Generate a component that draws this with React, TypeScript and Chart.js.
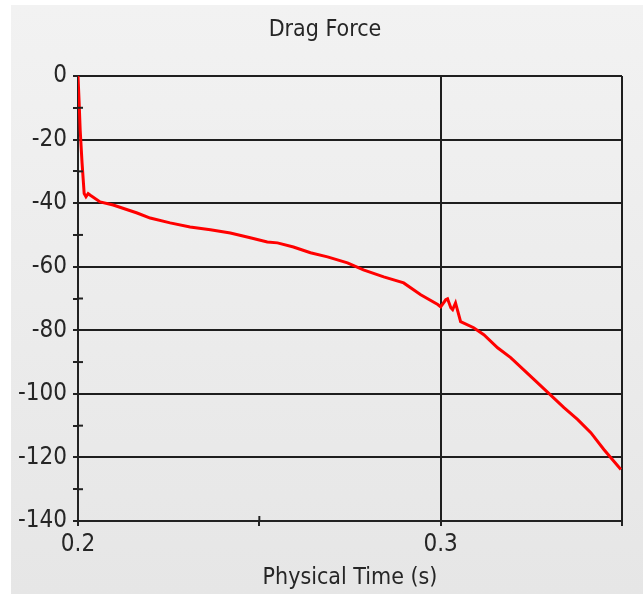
import React, { useEffect, useRef } from 'react';
import { Chart, registerables } from 'chart.js';

Chart.register(...registerables);

const chartTitle = 'Drag Force';
const xAxisTitle = 'Physical Time (s)';

const timeValues = [
  0.2, 0.2003, 0.2006, 0.2011, 0.2017, 0.2022, 0.2028, 0.2034, 0.2061, 0.2097,
  0.2163, 0.2199, 0.2254, 0.2309, 0.2365, 0.242, 0.2475, 0.2522, 0.255, 0.2594,
  0.2641, 0.2688, 0.2743, 0.2787, 0.2843, 0.2898, 0.2945, 0.2992, 0.3, 0.3014,
  0.3019, 0.3028, 0.3033, 0.3041, 0.3055, 0.3091, 0.3119, 0.3157, 0.3193, 0.3249,
  0.3296, 0.334, 0.3378, 0.3414, 0.345, 0.3497,
];
const dragValues = [
  0, -8, -17, -27, -37, -38, -37, -37.5, -39.6, -40.6,
  -43.1, -44.7, -46.2, -47.5, -48.4, -49.4, -50.9, -52.2, -52.5, -53.8,
  -55.6, -56.9, -58.8, -61.0, -63.2, -65.1, -68.8, -71.9, -72.6, -70.4,
  -70.1, -72.9, -73.5, -71.4, -77.3, -79.2, -81.4, -85.5, -88.6, -94.6,
  -99.6, -104.3, -108.1, -112.2, -117.5, -123.8,
];

const xTicks = [0.2, 0.25, 0.3, 0.35];
const xLabelled = [0.2, 0.3];
const yTicks = [-140, -130, -120, -110, -100, -90, -80, -70, -60, -50, -40, -30, -20, -10, 0];
const yLabelled = [-140, -120, -100, -80, -60, -40, -20, 0];

const FAMILY = '"DejaVu Sans Condensed", "DejaVu Sans", sans-serif';
const TEXT_COLOR = '#262626';

const near = (a: number, list: number[]) => list.some((b) => Math.abs(a - b) < 1e-6);

const titlePlugin = {
  id: 'centeredTitle',
  afterDraw(chart: any) {
    const { ctx } = chart;
    ctx.save();
    ctx.fillStyle = TEXT_COLOR;
    ctx.font = `23px ${FAMILY}`;
    ctx.textAlign = 'center';
    ctx.textBaseline = 'middle';
    ctx.fillText(chartTitle, 325, 30);
    ctx.restore();
  },
};

const minorTicksPlugin = {
  id: 'minorInsideTicks',
  afterDraw(chart: any) {
    const { ctx, chartArea, scales } = chart;
    ctx.save();
    ctx.strokeStyle = '#222';
    ctx.lineWidth = 2;
    yTicks.forEach((v) => {
      if (!near(v, yLabelled)) {
        const y = scales.y.getPixelForValue(v);
        ctx.beginPath();
        ctx.moveTo(chartArea.left, y);
        ctx.lineTo(chartArea.left + 5, y);
        ctx.stroke();
      }
    });
    xTicks.forEach((v) => {
      if (!near(v, xLabelled) && v < 0.349) {
        const x = scales.x.getPixelForValue(v);
        ctx.beginPath();
        ctx.moveTo(x, chartArea.bottom);
        ctx.lineTo(x, chartArea.bottom - 5);
        ctx.stroke();
      }
    });
    ctx.restore();
  },
};

export default function App() {
  const ref = useRef<HTMLCanvasElement | null>(null);

  useEffect(() => {
    if (!ref.current) return;
    const font = { family: FAMILY, size: 24 };
    const chart = new Chart(ref.current, {
      type: 'line',
      data: {
        datasets: [
          {
            data: timeValues.map((t, i) => ({ x: t, y: dragValues[i] })),
            borderColor: '#ff0000',
            borderWidth: 3,
            pointRadius: 0,
            tension: 0,
            fill: false,
          },
        ],
      },
      options: {
        animation: false,
        responsive: false,
        devicePixelRatio: 1,
        layout: { padding: { left: 0, right: 21, top: 76, bottom: 0 } },
        plugins: {
          legend: { display: false },
          tooltip: { enabled: false },
          title: { display: false },
        },
        scales: {
          x: {
            type: 'linear',
            min: 0.2,
            max: 0.35,
            afterBuildTicks: (scale: any) => {
              scale.ticks = xTicks.map((v) => ({ value: v }));
            },
            afterFit: (scale: any) => {
              scale.height = 73;
            },
            ticks: {
              autoSkip: false,
              maxRotation: 0,
              color: TEXT_COLOR,
              font,
              padding: 4,
              callback: (v: any) => (near(Number(v), xLabelled) ? Number(v).toFixed(1) : ''),
            },
            grid: {
              color: (c: any) => (c.tick && near(c.tick.value, [0.3, 0.35]) ? '#1e1e1e' : 'rgba(0,0,0,0)'),
              tickColor: '#222',
              lineWidth: 2,
              tickLength: 5,
            },
            border: { color: '#222', width: 2 },
            title: {
              display: true,
              text: xAxisTitle,
              color: TEXT_COLOR,
              font: { family: FAMILY, size: 23 },
              padding: { top: 0, bottom: 2 },
            },
          },
          y: {
            type: 'linear',
            min: -140,
            max: 0,
            afterBuildTicks: (scale: any) => {
              scale.ticks = yTicks.map((v) => ({ value: v }));
            },
            afterFit: (scale: any) => {
              scale.width = 78;
            },
            ticks: {
              autoSkip: false,
              color: TEXT_COLOR,
              font,
              padding: 6,
              callback: (v: any) => (near(Number(v), yLabelled) ? String(v) : ''),
            },
            grid: {
              color: (c: any) => (c.tick && near(c.tick.value, yLabelled) ? '#1e1e1e' : 'rgba(0,0,0,0)'),
              tickColor: '#222',
              lineWidth: 2,
              tickLength: 5,
            },
            border: { color: '#222', width: 2 },
          },
        },
      },
      plugins: [minorTicksPlugin, titlePlugin],
    } as any);
    return () => chart.destroy();
  }, []);

  return (
    <div style={{ position: 'fixed', left: 0, top: 0, width: 643, height: 594, background: '#fff' }}>
      <div
        style={{
          position: 'absolute',
          left: 11,
          top: 5,
          right: 0,
          bottom: 0,
          background: 'linear-gradient(#f2f2f2, #e6e6e6)',
        }}
      />
      <canvas ref={ref} width={643} height={594} style={{ position: 'absolute', left: 0, top: 0 }} />
    </div>
  );
}
